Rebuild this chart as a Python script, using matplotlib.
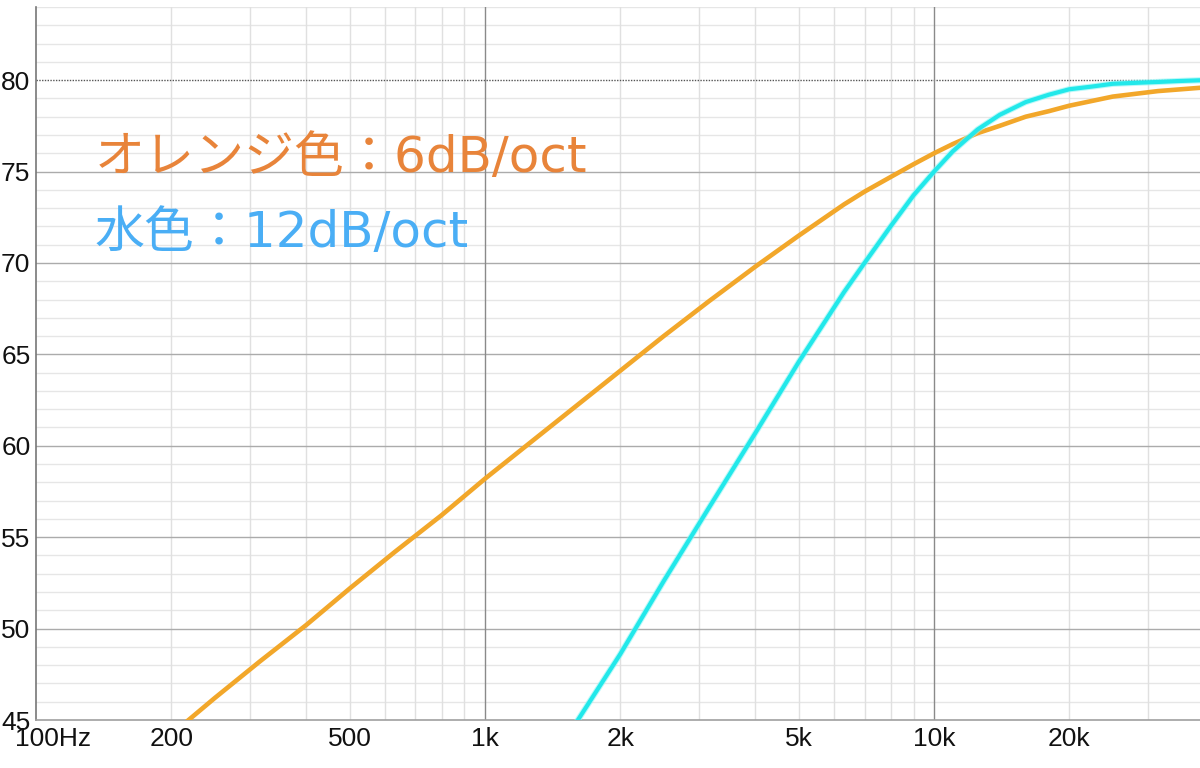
import numpy as np
import matplotlib
matplotlib.use('Agg')
import matplotlib.pyplot as plt

# 周波数特性 (読み取り値)
f_orange = [180, 200, 250, 315, 400, 500, 630, 800, 1000, 1250, 1600, 2000, 2500,
            3150, 4000, 5000, 6300, 7000, 8000, 9000, 10000, 11000, 12500, 14000,
            16000, 18000, 20000, 25000, 31500, 40000]
db_orange = [43.3, 44.2, 46.2, 48.2, 50.2, 52.2, 54.2, 56.2, 58.2, 60.1, 62.2, 64.1, 66.0,
             67.9, 69.8, 71.5, 73.2, 73.9, 74.7, 75.4, 76.0, 76.5, 77.1, 77.5,
             78.0, 78.3, 78.6, 79.1, 79.4, 79.6]

f_cyan = [1500, 1600, 2000, 2500, 3150, 4000, 5000, 6300, 7000, 8000, 9000, 10000,
          11000, 12500, 14000, 16000, 18000, 20000, 22500, 25000, 28000, 31500, 35000, 40000]
db_cyan = [43.7, 44.9, 48.6, 52.6, 56.6, 60.7, 64.6, 68.4, 70.0, 72.0, 73.7, 75.0,
           76.1, 77.3, 78.1, 78.8, 79.2, 79.5, 79.65, 79.8, 79.85, 79.9, 79.95, 80.0]

xticks = [100, 200, 500, 1000, 2000, 5000, 10000, 20000]
xlabels = ['', '200', '500', '1k', '2k', '5k', '10k', '20k']
yticks = [45, 50, 55, 60, 65, 70, 75, 80]

fig = plt.figure(figsize=(12, 7.68), dpi=100)
ax = fig.add_axes([36/1200, 48/768, 1164/1200, 713/768])
ax.set_xscale('log')
ax.set_xlim(100, 39100)
ax.set_ylim(45, 84)

# グリッド
for y in range(46, 85):
    if y % 5 != 0:
        ax.axhline(y, color='#e6e6e6', lw=1, zorder=0)
for y in [50, 55, 60, 65, 70, 75]:
    ax.axhline(y, color='#ababab', lw=1, zorder=0.5)
ax.axhline(80, color='#555555', lw=1, ls=(0, (1, 1)), zorder=0.5)
minor_x = [200, 300, 400, 500, 600, 700, 800, 900,
           2000, 3000, 4000, 5000, 6000, 7000, 8000, 9000, 20000, 30000]
for x in minor_x:
    ax.axvline(x, color='#e0e0e0', lw=1, zorder=0.2)
for x in [1000, 10000]:
    ax.axvline(x, color='#8a8a8a', lw=1, zorder=0.6)

ax.plot(f_orange, db_orange, color='#f2a72a', lw=3.3, solid_capstyle='butt', zorder=3)
ax.plot(f_cyan, db_cyan, color='#8ff6f6', lw=4.5, alpha=0.6, zorder=3.5)
ax.plot(f_cyan, db_cyan, color='#22e8ea', lw=3, zorder=4)

for s in ['top', 'right']:
    ax.spines[s].set_visible(False)
ax.spines['left'].set_color('#777777')
ax.spines['left'].set_linewidth(1.2)
ax.spines['bottom'].set_color('#a0a0a0')
ax.spines['bottom'].set_linewidth(1.2)

tfont = {'family': 'Liberation Sans', 'size': 19}
ax.set_xticks(xticks)
ax.set_xticklabels(xlabels, fontdict=tfont)
ax.xaxis.set_minor_locator(matplotlib.ticker.NullLocator())
ax.set_yticks(yticks)
ax.set_yticklabels([str(v) for v in yticks], fontdict=tfont)
ax.tick_params(axis='both', length=0, colors='#111111')
ax.tick_params(axis='x', pad=5)
ax.tick_params(axis='y', pad=4)
ax.annotate('100Hz', xy=(100, 0), xycoords=('data', 'axes fraction'),
            xytext=(-15, -5), textcoords='offset points', ha='left', va='top',
            fontfamily='Liberation Sans', fontsize=19, color='#111111')

jp = ['DejaVu Sans', 'Noto Sans CJK JP']
fig.text(95/1200, 1 - 172/768, 'オレンジ色：6dB/oct', color='#e8843a',
         fontsize=36, family=jp, va='baseline')
fig.text(95/1200, 1 - 247/768, '水色：12dB/oct', color='#4aaef5',
         fontsize=36, family=jp, va='baseline')

fig.savefig('out.png', dpi=100, facecolor='white')
